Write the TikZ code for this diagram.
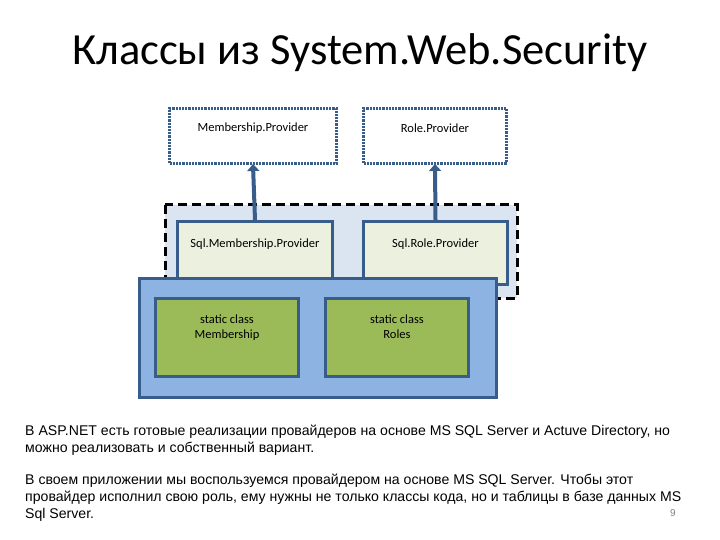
\documentclass[tikz,border=0pt]{standalone}
\usepackage{fontspec}
\setmainfont{Liberation Sans}
\newfontfamily\calibri{Carlito}
\usetikzlibrary{arrows.meta,positioning}
\definecolor{edgeblue}{HTML}{385D8A}
\definecolor{panelblue}{HTML}{8DB3E2}
\definecolor{paleblue}{HTML}{DBE5F1}
\definecolor{paleolive}{HTML}{EBF1DE}
\definecolor{classgreen}{HTML}{9BBB59}

\begin{document}
\begin{tikzpicture}[x=1pt, y=-1pt, font=\calibri\fontsize{12.5}{15}\selectfont,
  provider/.style={draw=edgeblue, line width=3pt, dash pattern=on 2.2pt off 1pt, fill=white, anchor=north west, inner sep=0pt},
  sqlbox/.style={draw=edgeblue, line width=3pt, fill=paleolive, anchor=north west, inner sep=0pt},
  classbox/.style={draw=edgeblue, line width=3pt, fill=classgreen, anchor=north west, inner sep=0pt},
  arrow/.style={-{Triangle[width=12pt,length=7pt]}, line width=4pt, draw=edgeblue, shorten >=-1pt},
  body/.style={anchor=north west, align=left, inner sep=0pt, font=\fontsize{14.1}{17}\selectfont}]
  \useasboundingbox (0,0) rectangle (720,540);
  % title
  \node[font=\calibri\fontsize{44.5}{52}\selectfont] (title) at (360,53) {Классы из System.Web.Security};
  % base providers
  \node[provider, minimum width=167pt, minimum height=55pt,
    label={[anchor=north, yshift=-12pt]north:Membership.Provider}] (mprov) at (168,107) {};
  \node[provider, minimum width=143pt, minimum height=55pt,
    label={[anchor=north, yshift=-13pt]north:Role.Provider}] (rprov) at (362,107) {};
  % sql implementations
  \draw[black, line width=3pt, dash pattern=on 9pt off 5pt, fill=paleblue] (165,205) rectangle (517,298);
  \node[sqlbox, minimum width=155pt, minimum height=63pt,
    label={[anchor=north, yshift=-15pt]north:Sql.Membership.Provider}] (msql) at (176,220) {};
  \node[sqlbox, minimum width=144pt, minimum height=63pt,
    label={[anchor=north, yshift=-15pt]north:Sql.Role.Provider}] (rsql) at (362,220) {};
  % static classes
  \node[draw=edgeblue, line width=3pt, fill=panelblue, anchor=north west, inner sep=0pt,
    minimum width=357pt, minimum height=119pt] (panel) at (138,277) {};
  \node[classbox, minimum width=143pt, minimum height=78pt,
    label={[anchor=north, align=center, yshift=-14pt]north:static class\\Membership}] (mstat) at (154,297) {};
  \node[classbox, minimum width=143pt, minimum height=78pt,
    label={[anchor=north, align=center, yshift=-14pt]north:static class\\Roles}] (rstat) at (324,297) {};
  \draw[arrow] (msql.north) -- (mprov.south);
  \draw[arrow] (rsql.north) -- (rprov.south);
  % notes
  \node[body] (note1) at (25,425) {В ASP.NET есть готовые реализации провайдеров на основе MS SQL Server и Actuve Directory, но\\можно реализовать и собственный вариант.};
  \node[body] (note2) at (25,474) {В своем приложении мы воспользуемся провайдером на основе MS SQL Server. Чтобы этот\\провайдер исполнил свою роль, ему нужны не только классы кода, но и таблицы в базе данных MS\\Sql Server.};
  \node[text=gray, font=\fontsize{10}{12}\selectfont] (page) at (673,513) {9};
\end{tikzpicture}
\end{document}
